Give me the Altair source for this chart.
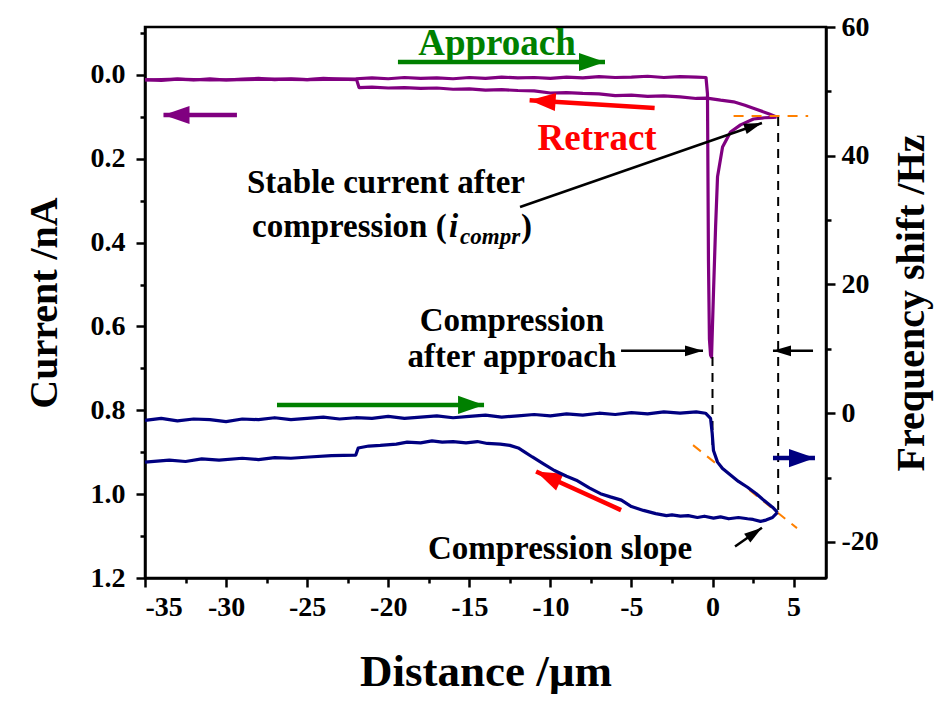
import altair as alt
import pandas as pd

# ---------------- data ----------------
# Current (nA), approach incl. compression spike
pa_x = [-35, -34, -33, -32, -31, -30, -29, -28, -27, -26, -25, -24, -23, -22, -21, -20,
        -19, -18, -17, -16, -15, -14, -13, -12, -11, -10, -9, -8, -7, -6, -5, -4, -3, -2, -1,
        -0.4, -0.31, -0.25, -0.19, -0.12, -0.06, 0.06, 0.19, 0.31, 0.62, 1.11, 1.73, 2.53, 3.2, 3.77, 3.95]
pa_y = [0.011, 0.013, 0.010, 0.012, 0.009, 0.012, 0.010, 0.008, 0.011, 0.009, 0.011, 0.008, 0.010, 0.009,
        0.007, 0.009, 0.006, 0.008, 0.007, 0.009, 0.006, 0.008, 0.005, 0.007, 0.006, 0.008, 0.005, 0.007,
        0.004, 0.006, 0.005, 0.003, 0.006, 0.004, 0.005,
        0.006, 0.045, 0.44, 0.63, 0.668, 0.673, 0.52, 0.363, 0.243, 0.172, 0.136, 0.119, 0.105, 0.102, 0.101, 0.100]
# Current (nA), retract
pr_x = [3.95, 3.5, 2.65, 2.0, 1.3, 0.5, -0.35, -1, -2, -3, -4, -5, -6, -7, -8, -9, -10, -11, -12, -13,
        -14, -15, -16, -17, -18, -19, -20, -21, -21.8, -21.95, -23, -25, -27, -29, -31, -33, -35]
pr_y = [0.100, 0.093, 0.081, 0.072, 0.064, 0.060, 0.055, 0.056, 0.052, 0.050, 0.051, 0.048, 0.049, 0.045,
        0.044, 0.042, 0.043, 0.038, 0.037, 0.035, 0.036, 0.033, 0.034, 0.031, 0.032, 0.030, 0.031, 0.029,
        0.030, 0.011, 0.010, 0.011, 0.010, 0.011, 0.012, 0.010, 0.012]
# Frequency shift (Hz), approach incl. compression
ba_x = [-35, -34, -33, -32, -31, -30, -29, -28, -27, -26, -25, -24, -23, -22, -21, -20,
        -19, -18, -17, -16, -15, -14, -13, -12, -11, -10, -9, -8, -7, -6, -5, -4, -3, -2, -1,
        -0.43, -0.12, -0.02, 0.06, 0.31, 0.62, 1.11, 1.6, 2.16, 2.7, 3.15, 3.70, 4.01]
ba_y = [-1.1, -0.8, -1.2, -0.9, -1.0, -1.3, -0.9, -1.0, -0.7, -1.0, -0.8, -0.6, -0.9, -0.7, -0.8, -0.5,
        -0.8, -0.6, -0.4, -0.7, -0.5, -0.3, -0.6, -0.4, -0.2, -0.4, -0.1, -0.3, 0.0, -0.2, 0.1, -0.1, 0.2,
        0.0, 0.2, 0.0, -0.8, -3.1, -5.8, -7.6, -8.6, -9.6, -10.6, -11.5, -12.5, -13.5, -14.6, -15.4]
# Frequency shift (Hz), retract
br_x = [4.01, 3.70, 3.3, 2.96, 2.5, 2.16, 1.6, 1.0, 0.5, 0.06, -0.5, -0.93, -1.5, -1.98, -2.5, -2.84,
        -3.5, -4.26, -5.0, -5.62, -6.3, -6.91, -7.6, -8.4, -9.0, -9.75, -10.4, -11.11, -11.6, -11.98,
        -12.5, -13.09, -13.89, -14.5, -15.2, -16.0, -16.67, -17.3, -18.0, -18.83, -19.5, -20.49, -21.2,
        -21.85, -22.0, -23.5, -24.88, -26.0, -27.0, -28.0, -29.0, -30.43, -31.5, -32.5, -33.5, -35]
br_y = [-15.4, -16.2, -16.6, -16.8, -16.5, -16.4, -16.2, -16.4, -16.1, -16.3, -16.0, -16.2, -15.9, -16.0,
        -15.8, -15.9, -15.6, -15.1, -14.5, -13.5, -13.0, -12.5, -11.6, -10.4, -9.8, -8.9, -7.9, -6.8, -6.0,
        -5.4, -5.0, -4.8, -4.7, -4.4, -4.6, -4.4, -4.5, -4.3, -4.6, -4.5, -4.8, -5.0, -5.1, -5.4, -6.5, -6.6,
        -6.8, -7.0, -6.9, -7.2, -7.0, -7.3, -7.1, -7.5, -7.3, -7.6]

x_ticks = [-35, -32.5, -30, -27.5, -25, -22.5, -20, -17.5, -15, -12.5, -10, -7.5, -5, -2.5, 0, 2.5, 5]
left_ticks = [-0.1, 0.0, 0.1, 0.2, 0.3, 0.4, 0.5, 0.6, 0.7, 0.8, 0.9, 1.0, 1.1, 1.2]
right_ticks = [-20, -10, 0, 10, 20, 30, 40, 50, 60]

# annotation texts (x in µm, y in nA)
txt_t = ["Approach", "Retract", "Stable current after", "Compression", "after approach", "Compression slope"]
txt_x = [-13.29, -7.12, -20.14, -12.37, -12.37, -9.4]
txt_y = [-0.074, 0.153, 0.258, 0.587, 0.673, 1.131]
txt_c = ["#008000", "#ff0000", "black", "black", "black", "black"]
txt_s = [37, 37, 33, 33, 33, 33]

# arrows: start -> tip (x in µm, y in nA)
arr_x = [-19.40, -26.86, -3.57, -5.64, -29.33, 3.73, -11.87, -5.64, 6.20, 1.39]
arr_y = [-0.031, 0.787, 0.079, 1.038, 0.0954, 0.914, 0.315, 0.658, 0.658, 1.125]
arr_x2 = [-6.63, -14.09, -11.28, -10.88, -33.86, 6.32, 3.05, -0.585, 3.73, 3.05]
arr_y2 = [-0.031, 0.787, 0.060, 0.946, 0.0954, 0.914, 0.1145, 0.658, 0.658, 1.08]
arr_ang = [90, 90, 274.1, 294.1, 270, 90, 70.9, 90, 270, 54.9]
arr_c = ["#008000", "#008000", "#ff0000", "#ff0000", "#800080", "#000080", "black", "black", "black", "black"]
arr_big = [1, 1, 1, 1, 1, 1, 0, 0, 0, 0]

# guide lines
bd_x = [0.0, 4.05]; bd_y = [0.673, 0.100]; bd_x2 = [0.0, 4.05]; bd_y2 = [0.883, 1.043]
od_x = [1.3, -1.2]; od_y = [0.098, 0.883]; od_x2 = [5.9, 5.21]; od_y2 = [0.098, 1.081]

# ---------------- chart ----------------
FONT = "'Liberation Serif', 'Times New Roman', 'DejaVu Serif', serif"
PURPLE = "#800080"; NAVY = "#000080"

xscale = alt.Scale(domain=[-35, 7], nice=False, zero=False)
lscale = alt.Scale(domain=[-0.1145, 1.2], reverse=True, nice=False, zero=False)
rscale = alt.Scale(domain=[-25.6, 60], nice=False, zero=False)

xaxis = alt.Axis(values=x_ticks, title="Distance /µm",
                 labelExpr="datum.value % 5 != 0 ? '' : '' + datum.value",
                 tickSize={"condition": {"test": "datum.value % 5 != 0", "value": 5}, "value": 9},
                 labelPadding=6, titlePadding=28, titleFontSize=45, grid=False)
laxis = alt.Axis(values=left_ticks, title="Current /nA", orient="left",
                 labelExpr="round(datum.value*10) % 2 != 0 ? '' : format(datum.value, '.1f')",
                 tickSize={"condition": {"test": "round(datum.value*10) % 2 != 0", "value": 5}, "value": 9},
                 labelPadding=11, titlePadding=26, grid=False)
raxis = alt.Axis(values=right_ticks, title="Frequency shift /Hz", orient="right",
                 labelExpr="datum.value % 20 != 0 ? '' : '' + datum.value",
                 tickSize={"condition": {"test": "datum.value % 20 != 0", "value": 5}, "value": 9},
                 labelPadding=6, titlePadding=13, titleAngle=270, titleBaseline="top", grid=False)

X = alt.X("x:Q", scale=xscale, axis=xaxis)
YL = alt.Y("y:Q", scale=lscale, axis=laxis)
YR = alt.Y("y:Q", scale=rscale, axis=raxis)


def series(xs, ys, name):
    return pd.DataFrame({"x": xs, "y": ys, "s": name, "i": range(len(xs))})


purple_df = pd.concat([series(pa_x, pa_y, "approach"), series(pr_x, pr_y, "retract")])
blue_df = pd.concat([series(ba_x, ba_y, "approach"), series(br_x, br_y, "retract")])

purple = alt.Chart(purple_df).mark_line(color=PURPLE, strokeWidth=3.2, strokeJoin="round").encode(
    x=X, y=YL, detail="s:N", order="i:Q")
blue = alt.Chart(blue_df).mark_line(color=NAVY, strokeWidth=3.2, strokeJoin="round").encode(
    x=X, y=YR, detail="s:N", order="i:Q")

bdash = alt.Chart(pd.DataFrame({"x": bd_x, "y": bd_y, "x2": bd_x2, "y2": bd_y2})).mark_rule(
    color="black", strokeWidth=2, strokeDash=[9, 7]).encode(x=X, y=YL, x2="x2:Q", y2="y2:Q")
odash = alt.Chart(pd.DataFrame({"x": od_x, "y": od_y, "x2": od_x2, "y2": od_y2})).mark_rule(
    color="#ff8000", strokeWidth=2, strokeDash=[10, 8]).encode(x=X, y=YL, x2="x2:Q", y2="y2:Q")

arr_df = pd.DataFrame({"x": arr_x, "y": arr_y, "x2": arr_x2, "y2": arr_y2, "ang": arr_ang,
                       "c": arr_c, "big": arr_big})
shafts_big = alt.Chart(arr_df[arr_df.big == 1]).mark_rule(strokeWidth=4.5).encode(
    x=X, y=YL, x2="x2:Q", y2="y2:Q", color=alt.Color("c:N", scale=None))
shafts_small = alt.Chart(arr_df[arr_df.big == 0]).mark_rule(strokeWidth=2.5).encode(
    x=X, y=YL, x2="x2:Q", y2="y2:Q", color=alt.Color("c:N", scale=None))
heads_df = pd.DataFrame({"x": arr_x2, "y": arr_y2, "ang": arr_ang, "c": arr_c, "big": arr_big})
heads_big = alt.Chart(heads_df[heads_df.big == 1]).mark_point(
    shape="M0,0L0.7,2L-0.7,2Z", filled=True, opacity=1, size=676, strokeWidth=0).encode(
    x=X, y=YL, angle=alt.Angle("ang:Q", scale=None), color=alt.Color("c:N", scale=None))
heads_small = alt.Chart(heads_df[heads_df.big == 0]).mark_point(
    shape="M0,0L0.6,2L-0.6,2Z", filled=True, opacity=1, size=324, strokeWidth=0).encode(
    x=X, y=YL, angle=alt.Angle("ang:Q", scale=None), color=alt.Color("c:N", scale=None))

txt_df = pd.DataFrame({"x": txt_x, "y": txt_y, "t": txt_t, "c": txt_c, "s": txt_s})
texts = alt.Chart(txt_df).mark_text(font=FONT, fontWeight="bold", baseline="middle", align="center").encode(
    x=X, y=YL, text="t:N", color=alt.Color("c:N", scale=None), size=alt.Size("s:Q", scale=None))

# "compression (i_compr)" with italic subscript
sub_t = ["compression (", "i", "compr", ")"]
sub_x = [-28.40, -16.25, -15.57, -11.81]
sub_y = [0.3865, 0.3865, 0.402, 0.3865]
sub_s = [33, 33, 23, 33]
sub_st = ["normal", "italic", "italic", "normal"]
sub_df = pd.DataFrame({"x": sub_x, "y": sub_y, "t": sub_t, "s": sub_s, "st": sub_st})
sub_norm = alt.Chart(sub_df[sub_df.st == "normal"]).mark_text(
    font=FONT, fontWeight="bold", baseline="alphabetic", align="left", color="black").encode(
    x=X, y=YL, text="t:N", size=alt.Size("s:Q", scale=None))
sub_ital = alt.Chart(sub_df[sub_df.st == "italic"]).mark_text(
    font=FONT, fontWeight="bold", fontStyle="italic", baseline="alphabetic", align="left", color="black").encode(
    x=X, y=YL, text="t:N", size=alt.Size("s:Q", scale=None))

left = alt.layer(purple, bdash, odash, shafts_big, shafts_small, heads_big, heads_small, texts, sub_norm, sub_ital)
right = alt.layer(blue)

chart = alt.layer(left, right).resolve_scale(y="independent").properties(
    width=681, height=551,
    autosize=alt.AutoSizeParams(type="none"),
    padding={"left": 137, "top": 19, "right": 112, "bottom": 116},
).configure(font=FONT).configure_view(stroke="black", strokeWidth=2.5).configure_axis(
    domainColor="black", domainWidth=2.5, tickColor="black", tickWidth=2.5,
    labelFont=FONT, labelFontWeight="bold", labelFontSize=28, labelColor="black",
    titleFont=FONT, titleFontWeight="bold", titleFontSize=40, titleColor="black",
).configure_text(font=FONT)

chart.save("out.html", embed_options={"renderer": "svg", "actions": False})
